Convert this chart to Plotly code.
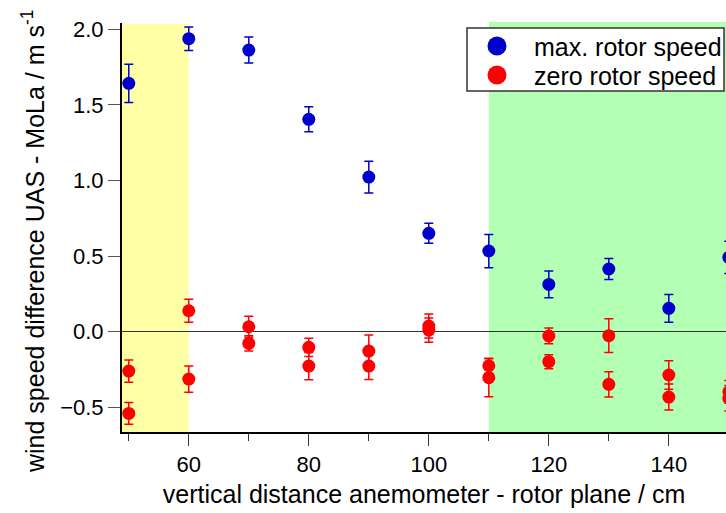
import plotly.graph_objects as go

# ---- data ----
dist_max = [50, 60, 70, 80, 90, 100, 110, 120, 130, 140, 150]
max_speed = [1.643, 1.938, 1.863, 1.405, 1.023, 0.651, 0.534, 0.313, 0.415, 0.155, 0.492]
max_err = [0.127, 0.078, 0.086, 0.083, 0.105, 0.066, 0.110, 0.088, 0.070, 0.092, 0.107]

dist_zero = [50, 50, 60, 60, 70, 70, 80, 80, 90, 90, 100, 100,
             110, 110, 120, 120, 130, 130, 140, 140, 150, 150]
zero_speed = [-0.260, -0.540, 0.139, -0.313, 0.033, -0.077, -0.103, -0.227, -0.128, -0.227,
              0.038, 0.011, -0.225, -0.304, -0.028, -0.198, -0.026, -0.348, -0.286, -0.432,
              -0.397, -0.440]
zero_err = [0.074, 0.072, 0.076, 0.087, 0.070, 0.050, 0.060, 0.090, 0.106, 0.088,
            0.080, 0.080, 0.050, 0.126, 0.052, 0.046, 0.112, 0.083, 0.094, 0.086,
            0.075, 0.084]

series_names = ["max. rotor speed", "zero rotor speed"]
yellow_span = [40, 60]
green_span = [110, 160]

BLUE = "#0000CC"
RED = "#FF0000"
series_colors = [BLUE, RED]

W, H = 726, 513
ML, MR, MT, MB = 122, 0, 23, 81
PW, PH = W - ML - MR, H - MT - MB


def px(xp):
    return (xp - ML) / PW


def py(yp):
    return (H - MB - yp) / PH


fig = go.Figure()

fig.add_trace(go.Scatter(
    x=dist_max, y=max_speed, mode="markers", name=series_names[0], showlegend=False,
    marker=dict(size=13, color=BLUE),
    error_y=dict(type="data", array=max_err, color=BLUE, thickness=1.5, width=4.5),
))
fig.add_trace(go.Scatter(
    x=dist_zero, y=zero_speed, mode="markers", name=series_names[1], showlegend=False,
    marker=dict(size=13, color=RED),
    error_y=dict(type="data", array=zero_err, color=RED, thickness=1.5, width=4.5),
))

# shaded regions
fig.add_shape(type="rect", xref="x", yref="paper", x0=yellow_span[0], x1=yellow_span[1],
              y0=0, y1=py(24), fillcolor="#FFFFA6", line_width=0, layer="below")
fig.add_shape(type="rect", xref="x", yref="paper", x0=green_span[0], x1=green_span[1],
              y0=0, y1=py(22), fillcolor="#B3FFB3", line_width=0, layer="below")

# legend box (drawn to match the reference legend layout)
fig.add_shape(type="rect", xref="paper", yref="paper",
              x0=px(467), x1=px(724), y0=py(91), y1=py(28),
              fillcolor="white", line=dict(color="#333333", width=1.5), layer="above")
for i, (name, col) in enumerate(zip(series_names, series_colors)):
    cy = 46 + 29 * i
    fig.add_shape(type="circle", xref="paper", yref="paper",
                  x0=px(497 - 9.5), x1=px(497 + 9.5), y0=py(cy + 9.5), y1=py(cy - 9.5),
                  fillcolor=col, line_width=0, layer="above")
    fig.add_annotation(text=name, xref="paper", yref="paper", x=px(532), y=py(cy + 1),
                       xanchor="left", yanchor="middle", showarrow=False,
                       font=dict(size=25, color="black"))

# y axis title
fig.add_annotation(text="wind speed difference UAS - MoLa / m s<sup>-1</sup>",
                   xref="paper", yref="paper", x=px(33), y=py(241),
                   xanchor="center", yanchor="middle", textangle=-90, showarrow=False,
                   font=dict(size=25, color="black"))

fig.update_layout(
    width=W, height=H,
    margin=dict(l=ML, r=MR, t=MT, b=MB),
    paper_bgcolor="white", plot_bgcolor="white",
    font=dict(family="Liberation Sans, Arial, sans-serif", color="black", size=22),
    showlegend=False,
)
fig.update_xaxes(
    range=[48.87, 149.53], showgrid=False, zeroline=False,
    showline=True, linecolor="black", linewidth=2,
    ticks="outside", ticklen=12, tickwidth=1.2, tickcolor="#333333",
    tick0=0, dtick=20, tickfont=dict(size=22),
    minor=dict(dtick=10, tick0=0, ticks="outside", ticklen=7, tickwidth=1.2, tickcolor="#333333"),
    title=dict(text="vertical distance anemometer - rotor plane / cm", font=dict(size=25), standoff=9),
)
fig.update_yaxes(
    range=[-0.663, 2.042], showgrid=False,
    zeroline=True, zerolinecolor="#333333", zerolinewidth=1,
    showline=True, linecolor="black", linewidth=2,
    ticks="outside", ticklen=12, tickwidth=1.2, tickcolor="#555555",
    tick0=0, dtick=0.5, tickformat=".1f", tickfont=dict(size=22),
)

fig.write_html("out.html")
